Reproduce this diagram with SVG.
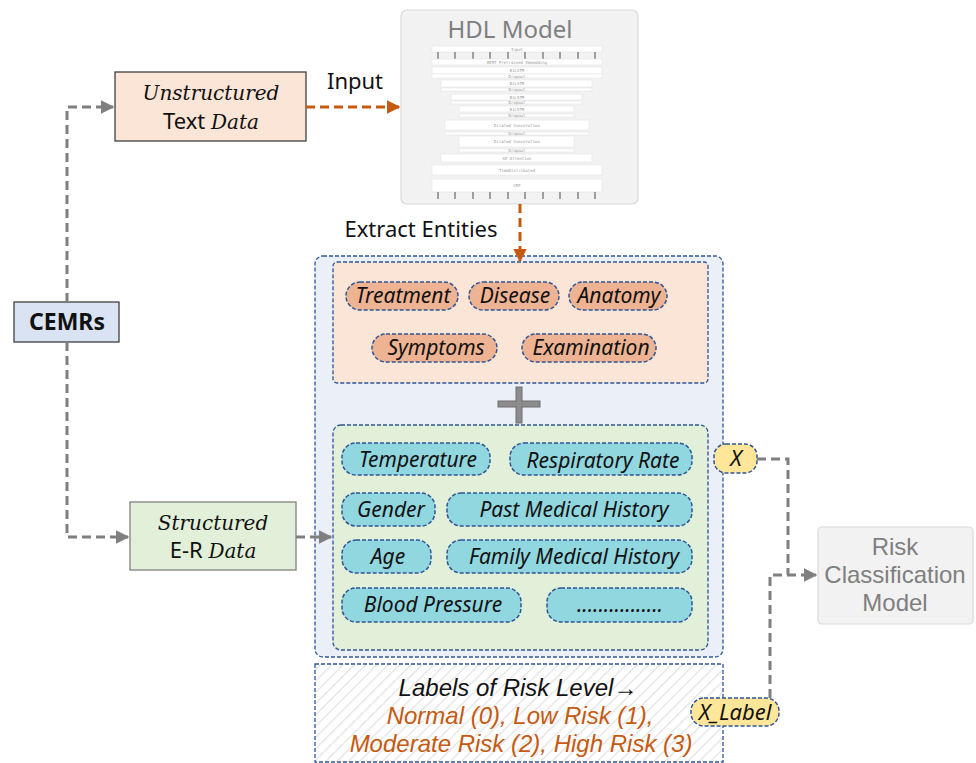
<svg xmlns="http://www.w3.org/2000/svg" width="976" height="763" viewBox="0 0 976 763">
<style>
.gc{fill:none;stroke:#7f7f7f;stroke-width:3;stroke-dasharray:9 5}
.oc{fill:none;stroke:#c55a11;stroke-width:3;stroke-dasharray:9 5}
.cont{stroke:#2f5597;stroke-width:1.3;stroke-dasharray:4 2}
.pillp{fill:#edb393;stroke:#2f5597;stroke-width:1.5;stroke-dasharray:4 2}
.pillc{fill:#91d7e0;stroke:#2f5597;stroke-width:1.5;stroke-dasharray:4 2}
.pilly{fill:#ffe699;stroke:#2f5597;stroke-width:1.5;stroke-dasharray:4 2}
.it{font-family:"Noto Sans","Open Sans",sans-serif;font-style:italic;font-size:21px;fill:#111;text-anchor:middle}
.lbl{font-size:22px}
.lab{font-family:"Liberation Sans",Arial,sans-serif;font-style:italic;font-size:24px;fill:#111;text-anchor:middle}
.sans{font-family:"Noto Sans","Open Sans",sans-serif;fill:#111}
.math{font-family:"DejaVu Serif",serif;font-style:italic}
.lay{fill:#fff;stroke:#e4e4e4;stroke-width:0.6}
.tiny{font-family:"DejaVu Sans Mono",monospace;font-size:4px;fill:#999;text-anchor:middle}
.ar{stroke:#222;stroke-width:0.8}
.grey{font-family:"Liberation Sans",Arial,sans-serif;fill:#7f7f7f;font-size:24px;text-anchor:middle}
</style>
<defs>
<marker id="ag" viewBox="0 0 10 10" refX="9" refY="5" markerWidth="4.5" markerHeight="4.5" orient="auto" markerUnits="strokeWidth"><path d="M0,0 L10,5 L0,10 z" fill="#7f7f7f"/></marker>
<marker id="ao" viewBox="0 0 10 10" refX="9" refY="5" markerWidth="4.5" markerHeight="4.5" orient="auto" markerUnits="strokeWidth"><path d="M0,0 L10,5 L0,10 z" fill="#c55a11"/></marker>
<pattern id="hatch" width="8" height="8" patternUnits="userSpaceOnUse" patternTransform="rotate(45)"><rect width="8" height="8" fill="#ffffff"/><line x1="0" y1="0" x2="0" y2="8" stroke="#e2e2e2" stroke-width="2.5"/></pattern>
</defs>
<rect width="976" height="763" fill="#ffffff"/>

<g id="input-label"><text class="sans" x="355" y="89" font-size="22" text-anchor="middle">Input</text></g>
<g id="extract-label"><text class="sans" x="421" y="237" font-size="22" text-anchor="middle">Extract Entities</text></g>

<g id="cemrs">
<rect x="14" y="302" width="105" height="40" fill="#dae3f3" stroke="#404040" stroke-width="1.3"/>
<text class="sans" x="67" y="330" font-size="23" font-weight="bold" text-anchor="middle">CEMRs</text>
</g>

<g id="unstructured">
<rect x="115" y="72" width="191" height="69" fill="#fbe5d6" stroke="#404040" stroke-width="1.3"/>
<text class="math" x="211" y="100" font-size="20" text-anchor="middle" fill="#111">Unstructured</text>
<text x="211" y="129" font-size="22" text-anchor="middle" fill="#111"><tspan class="sans">Text </tspan><tspan class="math" font-size="20">Data</tspan></text>
</g>

<g id="structured">
<rect x="130" y="502" width="166" height="68" fill="#e2f0d9" stroke="#808080" stroke-width="1.3"/>
<text class="math" x="213" y="530" font-size="20" text-anchor="middle" fill="#111">Structured</text>
<text x="213" y="558" font-size="22" text-anchor="middle" fill="#111"><tspan class="sans">E-R </tspan><tspan class="math" font-size="20">Data</tspan></text>
</g>

<g id="hdl-model">
<rect x="401" y="10" width="237" height="194" rx="6" fill="#f2f2f2" stroke="#d9d9d9" stroke-width="1.2"/>
<text class="sans" x="510" y="38" font-size="24" text-anchor="middle" style="fill:#7f7f7f">HDL Model</text>
<rect class="lay" x="432" y="46" width="170" height="6"/><text class="tiny" x="517" y="50.5">Input</text>
<g class="ar">
<line x1="438" y1="52" x2="438" y2="59"/><line x1="455" y1="52" x2="455" y2="59"/><line x1="473" y1="52" x2="473" y2="59"/><line x1="490" y1="52" x2="490" y2="59"/><line x1="508" y1="52" x2="508" y2="59"/><line x1="525" y1="52" x2="525" y2="59"/><line x1="543" y1="52" x2="543" y2="59"/><line x1="560" y1="52" x2="560" y2="59"/><line x1="578" y1="52" x2="578" y2="59"/><line x1="595" y1="52" x2="595" y2="59"/>
</g>
<rect class="lay" x="432" y="59" width="170" height="6"/><text class="tiny" x="517" y="63.5">BERT Pretrained Embedding</text>
<rect class="lay" x="432" y="67" width="170" height="7"/><text class="tiny" x="517" y="72">BiLSTM</text>
<rect class="lay" x="432" y="74" width="170" height="4"/><text class="tiny" x="517" y="77.5">Dropout</text>
<rect class="lay" x="441" y="80" width="151" height="7"/><text class="tiny" x="517" y="85">BiLSTM</text>
<rect class="lay" x="441" y="88" width="151" height="3"/><text class="tiny" x="517" y="91">Dropout</text>
<rect class="lay" x="451" y="94" width="131" height="6"/><text class="tiny" x="517" y="98.5">BiLSTM</text>
<rect class="lay" x="451" y="101" width="131" height="3"/><text class="tiny" x="517" y="104">Dropout</text>
<rect class="lay" x="459" y="106" width="115" height="6"/><text class="tiny" x="517" y="110.5">BiLSTM</text>
<rect class="lay" x="459" y="114" width="115" height="3"/><text class="tiny" x="517" y="117">Dropout</text>
<rect class="lay" x="445" y="120" width="144" height="10"/><text class="tiny" x="517" y="126.5">Dilated Convolution</text>
<rect class="lay" x="445" y="132" width="144" height="3"/><text class="tiny" x="517" y="135">Dropout</text>
<rect class="lay" x="459" y="136" width="115" height="11"/><text class="tiny" x="517" y="143">Dilated Convolution</text>
<rect class="lay" x="459" y="149" width="115" height="3"/><text class="tiny" x="517" y="152">Dropout</text>
<rect class="lay" x="441" y="154" width="151" height="8"/><text class="tiny" x="517" y="159.5">SE Attention</text>
<rect class="lay" x="432" y="165" width="170" height="10"/><text class="tiny" x="517" y="171.5">TimeDistributed</text>
<rect class="lay" x="432" y="179" width="170" height="13"/><text class="tiny" x="517" y="187">CRF</text>
<g class="ar">
<line x1="438" y1="192" x2="438" y2="199"/><line x1="455" y1="192" x2="455" y2="199"/><line x1="473" y1="192" x2="473" y2="199"/><line x1="490" y1="192" x2="490" y2="199"/><line x1="508" y1="192" x2="508" y2="199"/><line x1="525" y1="192" x2="525" y2="199"/><line x1="543" y1="192" x2="543" y2="199"/><line x1="560" y1="192" x2="560" y2="199"/><line x1="578" y1="192" x2="578" y2="199"/><line x1="595" y1="192" x2="595" y2="199"/>
</g>
</g>

<g id="entity-container">
<rect class="cont" x="315" y="256" width="408" height="401" rx="8" fill="#eaeff8"/>
</g>

<g id="extracted-entities">
<rect class="cont" x="333" y="262" width="375" height="121" rx="4" fill="#fbe5d6"/>
<g id="treatment"><rect class="pillp" x="346" y="282" width="112" height="28" rx="14"/><text class="it" x="403" y="303">Treatment</text></g>
<g id="disease"><rect class="pillp" x="469" y="282" width="90" height="28" rx="14"/><text class="it" x="515" y="303">Disease</text></g>
<g id="anatomy"><rect class="pillp" x="569" y="282" width="98" height="28" rx="14"/><text class="it" x="619" y="303">Anatomy</text></g>
<g id="symptoms"><rect class="pillp" x="372" y="334" width="125" height="28" rx="14"/><text class="it" x="436" y="355">Symptoms</text></g>
<g id="examination"><rect class="pillp" x="522" y="334" width="134" height="28" rx="14"/><text class="it" x="591" y="355">Examination</text></g>
</g>

<g id="plus">
<rect x="498" y="401" width="42" height="6" fill="#8c8c8c" stroke="#6f6f6f" stroke-width="1"/>
<rect x="516" y="387" width="6" height="36" fill="#8c8c8c" stroke="#6f6f6f" stroke-width="1"/>
<rect x="499" y="402" width="40" height="4" fill="#8c8c8c"/>
</g>

<g id="structured-entities">
<rect class="cont" x="333" y="425" width="375" height="225" rx="8" fill="#e2efd9"/>
<g id="temperature"><rect class="pillc" x="342" y="443" width="148" height="32" rx="14"/><text class="it" x="418" y="467">Temperature</text></g>
<g id="respiratory"><rect class="pillc" x="510" y="443" width="182" height="32" rx="14"/><text class="it" x="603" y="468">Respiratory Rate</text></g>
<g id="gender"><rect class="pillc" x="342" y="493" width="93" height="33" rx="14"/><text class="it" x="391" y="517">Gender</text></g>
<g id="past"><rect class="pillc" x="447" y="493" width="245" height="33" rx="14"/><text class="it" x="574" y="517">Past Medical History</text></g>
<g id="age"><rect class="pillc" x="342" y="540" width="89" height="33" rx="14"/><text class="it" x="388" y="564">Age</text></g>
<g id="family"><rect class="pillc" x="447" y="540" width="245" height="33" rx="14"/><text class="it" x="574" y="564">Family Medical History</text></g>
<g id="blood"><rect class="pillc" x="342" y="588" width="179" height="34" rx="14"/><text class="it" x="433" y="612">Blood Pressure</text></g>
<g id="more"><rect class="pillc" x="547" y="588" width="145" height="34" rx="14"/><text class="it" x="620" y="612">................</text></g>
</g>

<g id="x-node"><rect class="pilly" x="714" y="444" width="43" height="29" rx="12"/><text class="it lbl" x="736" y="466">X</text></g>

<g id="labels-box">
<rect class="cont" x="315" y="664" width="408" height="98" fill="url(#hatch)"/>
<text class="lab" x="518" y="696">Labels of Risk Level→</text>
<text class="lab" x="520" y="724" style="fill:#c55a11">Normal (0), Low Risk (1),</text>
<text class="lab" x="521" y="752" style="fill:#c55a11">Moderate Risk (2), High Risk (3)</text>
</g>

<g id="x-label-node"><rect class="pilly" x="691" y="698" width="88" height="28" rx="13"/><text class="it lbl" x="735" y="720">X_Label</text></g>

<g id="risk-model">
<rect x="818" y="527" width="155" height="97" rx="4" fill="#f2f2f2" stroke="#d9d9d9" stroke-width="1.2"/>
<text class="grey" x="895" y="555">Risk</text>
<text class="grey" x="895" y="583">Classification</text>
<text class="grey" x="895" y="611">Model</text>
</g>

<g id="connectors">
<path class="gc" d="M67,302 V107 H113" marker-end="url(#ag)"/>
<path class="gc" d="M67,342 V537 H128" marker-end="url(#ag)"/>
<path class="gc" d="M296,537 H331" marker-end="url(#ag)"/>
<path class="oc" d="M306,107 H399" marker-end="url(#ao)"/>
<path class="oc" d="M520,204 V261" marker-end="url(#ao)"/>
<path class="gc" d="M757,459 H788 V575"/>
<path class="gc" d="M770,698 V575 H816" marker-end="url(#ag)"/>
</g>
</svg>
